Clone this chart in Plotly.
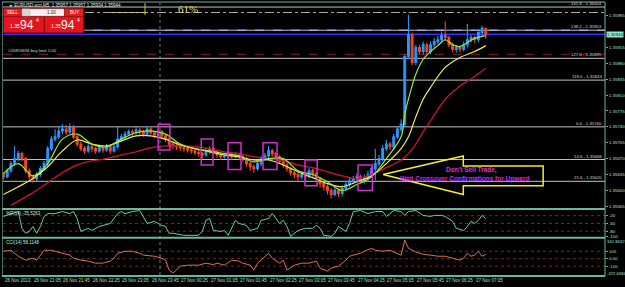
import plotly.graph_objects as go

# ---------------- DATA ----------------
opens = [1.35635,1.35630,1.35643,1.35659,1.35670,1.35681,1.35670,1.35643,1.35630,1.35626,
 1.35635,1.35648,1.35659,1.35692,1.35713,1.35718,1.35731,1.35735,1.35729,1.35740,
 1.35718,1.35702,1.35692,1.35687,1.35696,1.35692,1.35687,1.35694,1.35689,1.35696,
 1.35687,1.35696,1.35713,1.35718,1.35724,1.35729,1.35727,1.35733,1.35729,1.35724,
 1.35735,1.35727,1.35722,1.35729,1.35720,1.35713,1.35702,1.35698,1.35696,1.35694,
 1.35692,1.35689,1.35687,1.35683,1.35681,1.35678,1.35687,1.35692,1.35685,1.35678,
 1.35674,1.35676,1.35681,1.35674,1.35678,1.35674,1.35670,1.35659,1.35652,1.35648,
 1.35659,1.35670,1.35676,1.35687,1.35681,1.35674,1.35665,1.35656,1.35648,1.35639,
 1.35635,1.35630,1.35635,1.35630,1.35643,1.35637,1.35626,1.35615,1.35608,1.35600,
 1.35591,1.35600,1.35593,1.35604,1.35613,1.35621,1.35626,1.35630,1.35621,1.35628,
 1.35635,1.35648,1.35659,1.35670,1.35692,1.35702,1.35696,1.35718,1.35735,1.35746,
 1.35895,1.35943,1.35882,1.35915,1.35906,1.35921,1.35906,1.35921,1.35928,1.35932,
 1.35941,1.35937,1.35921,1.35911,1.35915,1.35911,1.35921,1.35932,1.35937,1.35932,
 1.35948,1.35957]
closes = [1.35630,1.35643,1.35659,1.35670,1.35681,1.35670,1.35643,1.35630,1.35626,1.35635,
 1.35648,1.35659,1.35692,1.35713,1.35718,1.35731,1.35735,1.35729,1.35740,1.35718,
 1.35702,1.35692,1.35687,1.35696,1.35692,1.35687,1.35694,1.35689,1.35696,1.35687,
 1.35696,1.35713,1.35718,1.35724,1.35729,1.35727,1.35733,1.35729,1.35724,1.35735,
 1.35727,1.35722,1.35729,1.35720,1.35713,1.35702,1.35698,1.35696,1.35694,1.35692,
 1.35689,1.35687,1.35683,1.35681,1.35678,1.35687,1.35692,1.35685,1.35678,1.35674,
 1.35676,1.35681,1.35674,1.35678,1.35674,1.35670,1.35659,1.35652,1.35648,1.35659,
 1.35670,1.35676,1.35687,1.35681,1.35674,1.35665,1.35656,1.35648,1.35639,1.35635,
 1.35630,1.35635,1.35630,1.35643,1.35637,1.35626,1.35615,1.35608,1.35600,1.35591,
 1.35600,1.35593,1.35604,1.35613,1.35621,1.35626,1.35630,1.35621,1.35628,1.35635,
 1.35648,1.35659,1.35670,1.35692,1.35702,1.35696,1.35718,1.35735,1.35746,1.35895,
 1.35943,1.35882,1.35915,1.35906,1.35921,1.35906,1.35921,1.35928,1.35932,1.35941,
 1.35937,1.35921,1.35911,1.35915,1.35911,1.35921,1.35932,1.35937,1.35932,1.35948,
 1.35957,1.35944]
highs = [1.35640,1.35648,1.35665,1.35698,1.35687,1.35685,1.35674,1.35648,1.35635,1.35641,
 1.35654,1.35665,1.35698,1.35720,1.35735,1.35740,1.35746,1.35744,1.35748,1.35744,
 1.35722,1.35707,1.35698,1.35702,1.35700,1.35696,1.35700,1.35698,1.35702,1.35700,
 1.35702,1.35740,1.35724,1.35731,1.35735,1.35735,1.35740,1.35737,1.35733,1.35742,
 1.35740,1.35731,1.35735,1.35733,1.35724,1.35718,1.35707,1.35702,1.35700,1.35698,
 1.35696,1.35694,1.35692,1.35689,1.35685,1.35694,1.35698,1.35696,1.35689,1.35683,
 1.35683,1.35687,1.35685,1.35685,1.35683,1.35678,1.35674,1.35663,1.35657,1.35665,
 1.35676,1.35683,1.35698,1.35692,1.35685,1.35678,1.35670,1.35661,1.35652,1.35643,
 1.35641,1.35641,1.35639,1.35650,1.35648,1.35641,1.35630,1.35619,1.35613,1.35604,
 1.35606,1.35604,1.35611,1.35619,1.35628,1.35632,1.35637,1.35635,1.35635,1.35643,
 1.35654,1.35692,1.35678,1.35700,1.35711,1.35707,1.35724,1.35742,1.35757,1.35900,
 1.35987,1.35948,1.35921,1.35921,1.35928,1.35926,1.35928,1.35935,1.35941,1.35950,
 1.35972,1.35941,1.35926,1.35921,1.35919,1.35928,1.35967,1.35943,1.35941,1.35954,
 1.35963,1.35957]
lows = [1.35624,1.35626,1.35639,1.35654,1.35665,1.35665,1.35637,1.35624,1.35617,1.35620,
 1.35630,1.35643,1.35654,1.35687,1.35707,1.35713,1.35724,1.35722,1.35724,1.35713,
 1.35696,1.35687,1.35681,1.35683,1.35685,1.35681,1.35683,1.35683,1.35685,1.35681,
 1.35683,1.35692,1.35707,1.35713,1.35720,1.35720,1.35722,1.35722,1.35718,1.35720,
 1.35722,1.35715,1.35718,1.35713,1.35707,1.35696,1.35692,1.35689,1.35687,1.35685,
 1.35683,1.35681,1.35678,1.35674,1.35670,1.35674,1.35681,1.35678,1.35672,1.35667,
 1.35670,1.35670,1.35667,1.35670,1.35667,1.35663,1.35652,1.35643,1.35639,1.35643,
 1.35654,1.35665,1.35670,1.35674,1.35667,1.35659,1.35650,1.35641,1.35632,1.35626,
 1.35622,1.35624,1.35622,1.35626,1.35630,1.35619,1.35606,1.35600,1.35591,1.35582,
 1.35587,1.35585,1.35587,1.35598,1.35608,1.35615,1.35619,1.35615,1.35615,1.35622,
 1.35630,1.35622,1.35654,1.35665,1.35687,1.35689,1.35692,1.35713,1.35729,1.35740,
 1.35889,1.35876,1.35876,1.35900,1.35900,1.35900,1.35900,1.35915,1.35921,1.35926,
 1.35930,1.35915,1.35904,1.35904,1.35904,1.35906,1.35915,1.35926,1.35924,1.35926,
 1.35941,1.35934]

# moving averages (bar index, value)
ma_fast_idx = [0,4,8,12,16,20,24,28,32,36,40,44,48,52,56,60,64,68,72,76,80,84,88,92,96,100,104,108,109,110,112,114,116,118,120,122,124,126,128,131]
ma_fast_val = [1.35637,1.35659,1.35632,1.35659,1.35713,1.35724,1.35702,1.35696,1.35713,1.35727,1.35731,1.35724,1.35702,1.35692,1.35687,1.35681,1.35676,1.35663,1.35670,1.35670,1.35643,1.35635,1.35619,1.35600,1.35613,1.35630,1.35670,1.35718,1.35768,1.35801,1.35856,1.35889,1.35906,1.35919,1.35932,1.35921,1.35917,1.35926,1.35935,1.35941]
ma_mid_idx = [0,4,8,12,16,20,24,28,32,36,40,44,48,52,56,60,64,68,72,76,80,84,88,92,96,100,104,108,110,112,114,116,120,124,128,131]
ma_mid_val = [1.35591,1.35608,1.35626,1.35652,1.35687,1.35711,1.35702,1.35698,1.35709,1.35720,1.35720,1.35713,1.35700,1.35692,1.35685,1.35678,1.35674,1.35667,1.35667,1.35656,1.35641,1.35628,1.35615,1.35608,1.35619,1.35632,1.35659,1.35692,1.35718,1.35762,1.35801,1.35827,1.35871,1.35893,1.35906,1.35919]
ma_slow_idx = [2,8,12,16,20,24,28,32,36,40,44,48,52,56,60,64,68,72,76,80,84,88,92,96,100,104,108,110,112,114,116,120,124,128,131]
ma_slow_val = [1.35567,1.35595,1.35617,1.35639,1.35656,1.35665,1.35670,1.35678,1.35685,1.35694,1.35698,1.35698,1.35696,1.35692,1.35685,1.35681,1.35674,1.35670,1.35665,1.35656,1.35650,1.35641,1.35632,1.35626,1.35635,1.35650,1.35667,1.35681,1.35702,1.35729,1.35753,1.35801,1.35830,1.35851,1.35869]

# Williams %R (bar index, value)
wpr_idx = [0,2,4,5,6,7,8,9,10,11,12,14,16,18,19,20,21,23,24,26,27,29,31,32,33,35,37,38,39,41,43,44,45,46,49,51,53,54,55,56,57,59,60,61,62,63,64,66,67,69,70,72,73,75,76,77,78,80,82,84,85,86,87,89,90,91,93,94,95,97,99,101,103,104,106,108,109,110,112,114,116,117,119,120,122,123,125,126,127,128,129,130,131]
wpr_val = [-23,-12,-4,-69,-88,-81,-62,-88,-62,-23,-12,-12,-4,-12,-4,-31,-81,-69,-77,-62,-58,-50,-12,-4,-12,-4,0,-23,-50,-42,-58,-62,-88,-88,-96,-96,-96,-81,-38,-31,-77,-81,-77,-96,-69,-38,-50,-58,-77,-69,-38,-31,-12,-50,-38,-62,-100,-77,-69,-69,-58,-69,-96,-100,-88,-62,-81,-50,-4,0,-12,-4,-4,-23,0,-4,-19,-4,0,-19,-23,-19,-19,-23,-42,-69,-77,-62,-42,-50,-38,-19,-31,-35.5]
# CCI (bar index, value)
cci_idx = [0,2,3,4,6,8,9,10,11,13,14,16,18,19,21,23,25,27,29,30,31,33,35,37,38,41,43,44,45,46,47,48,50,53,55,57,58,60,62,64,65,67,68,69,71,72,73,75,76,77,79,81,83,85,86,88,89,91,93,94,95,97,98,100,101,103,105,107,108,109,110,112,114,116,118,120,122,124,125,126,127,128,129,130,131]
cci_val = [100,113,73,33,-20,7,-20,47,113,113,100,73,47,7,-20,-33,-60,-60,-33,7,73,100,100,73,47,33,7,-20,-153,-193,-153,-100,-87,-87,-60,-80,-60,-87,-20,-33,-60,-87,-153,-60,33,73,7,-60,-20,-153,-87,-60,-60,-33,-127,-167,-127,-100,-20,33,47,73,100,140,113,100,113,73,47,247,140,90,60,47,33,33,7,-20,7,73,33,47,100,33,58.1]

time_idx = [0,8,16,24,32,40,48,56,64,72,80,88,96,104,112,120,128]
time_labels = ["26 Nov 2013","26 Nov 21:05","26 Nov 21:45","26 Nov 22:25","26 Nov 23:05","26 Nov 23:45",
               "27 Nov 00:25","27 Nov 01:05","27 Nov 01:45","27 Nov 02:25","27 Nov 03:05","27 Nov 03:45",
               "27 Nov 04:25","27 Nov 05:05","27 Nov 05:45","27 Nov 06:25","27 Nov 07:05"]
price_ticks = [1.35565,1.35600,1.35635,1.35670,1.35705,1.35740,1.35775,1.35810,1.35845,1.35880,1.35915,1.35985]
bid_price = 1.35944
fib_prices = [1.36004,1.35953,1.35891,1.35843,1.35740,1.35668,1.35620]
fib_labels = ["161.8 - 1.36004","138.2 - 1.35953","127.0 - 1.35891","118.0 - 1.35843","0.0 - 1.35740","14.6 - 1.35668","21.6 - 1.35620"]
buy_limit_price = 1.35900
level_6_price = 1.35992
vline_bar = 42.5
# magenta boxes: (bar0, bar1, price_low, price_high)
boxes = [(42.0,45.2,1.35689,1.35746),(53.7,56.9,1.35656,1.35713),(61.0,64.5,1.35646,1.35705),
         (70.5,74.3,1.35646,1.35705),(81.9,85.2,1.35610,1.35667),(96.3,100.2,1.35600,1.35656)]
arrow_x = [103.1,124.9,124.9,146.6,146.6,124.9,124.9,103.1]
arrow_y = [1.35635,1.35676,1.35654,1.35654,1.35610,1.35610,1.35591,1.35635]
wpr_levels = [-20,-50,-80]
wpr_ticks = [-20,-50,-80,-100]
cci_levels = [100,0,-100]

# ---------------- FIGURE ----------------
W, H = 625, 287
def px(x): return x / W
def py(y): return 1 - y / H

P_TOP, P_BOT = 1.36013, 1.35560
FG = '#A6E0C4'
FRAME = '#6FB59A'
FONT = 'Liberation Sans'

fig = go.Figure()
xb = list(range(len(closes)))
fig.add_trace(go.Candlestick(x=xb, open=opens, high=highs, low=lows, close=closes,
    increasing=dict(line=dict(color='#2A95FF', width=1.1), fillcolor='#2A95FF'),
    decreasing=dict(line=dict(color='#F0462E', width=1.1), fillcolor='#F0462E'),
    whiskerwidth=0, hoverinfo='skip', xaxis='x', yaxis='y'))
fig.add_trace(go.Scatter(x=ma_slow_idx, y=ma_slow_val, mode='lines', line=dict(color='#C0142E', width=1.4, shape='spline'), xaxis='x', yaxis='y'))
fig.add_trace(go.Scatter(x=ma_mid_idx, y=ma_mid_val, mode='lines', line=dict(color='#F2EE58', width=1.2, shape='spline'), xaxis='x', yaxis='y'))
fig.add_trace(go.Scatter(x=ma_fast_idx, y=ma_fast_val, mode='lines', line=dict(color='#8EF03A', width=1.2, shape='spline'), xaxis='x', yaxis='y'))
fig.add_trace(go.Scatter(x=wpr_idx, y=wpr_val, mode='lines', line=dict(color='#66CDAA', width=1), xaxis='x', yaxis='y2'))
fig.add_trace(go.Scatter(x=cci_idx, y=cci_val, mode='lines', line=dict(color='#D8744C', width=1), xaxis='x', yaxis='y3'))

shapes = []
def hline(yv, yref, color, width=1, dash='solid', x0=3, x1=605):
    shapes.append(dict(type='line', xref='paper', yref=yref, x0=px(x0), x1=px(x1), y0=yv, y1=yv,
                       line=dict(color=color, width=width, dash=dash), layer='below'))

for fp in fib_prices:
    hline(fp, 'y', '#C4C4C4', 1)
hline(level_6_price, 'y', '#A8A8A8', 1, 'dashdot', 85, 605)
hline(buy_limit_price, 'y', '#8E1A1A', 1, 'dash')
hline(bid_price, 'y', '#2F2FFF', 1.6)
hline(fib_prices[1], 'y', '#B8B8FF', 1, 'dash')
for lv in wpr_levels:
    hline(lv, 'y2', '#7A2626', 1, 'dot')
for lv in cci_levels:
    hline(lv, 'y3', '#7A2626', 1, 'dot')

shapes.append(dict(type='line', xref='x', yref='paper', x0=vline_bar, x1=vline_bar, y0=py(277), y1=py(3),
                   line=dict(color='#5E8E7E', width=1, dash='dot')))
shapes.append(dict(type='line', xref='paper', yref='paper', x0=px(145), x1=px(145), y0=py(15), y1=py(3),
                   line=dict(color='#D8C040', width=1)))
shapes.append(dict(type='line', xref='paper', yref='y', x0=px(112), x1=px(145), y0=level_6_price, y1=level_6_price,
                   line=dict(color='#E0D060', width=1, dash='dot')))

for b0, b1, lo, hi in boxes:
    shapes.append(dict(type='rect', xref='x', yref='y', x0=b0, x1=b1, y0=lo, y1=hi,
                       line=dict(color='#D030D0', width=1.5)))

shapes.append(dict(type='line', xref='paper', yref='paper', x0=px(605), x1=px(605), y0=py(278), y1=py(2), line=dict(color=FRAME, width=1)))
shapes.append(dict(type='line', xref='paper', yref='paper', x0=px(2.5), x1=px(2.5), y0=py(278), y1=py(2), line=dict(color='#3E6E5E', width=1)))
for yy, w in [(2, 1), (210.5, 2), (239.5, 2), (278, 2)]:
    shapes.append(dict(type='line', xref='paper', yref='paper', x0=px(2), x1=px(605), y0=py(yy), y1=py(yy), line=dict(color=FRAME, width=w)))

def prect(x0, y0, x1, y1, fill, lc=None):
    shapes.append(dict(type='rect', xref='paper', yref='paper', x0=px(x0), x1=px(x1), y0=py(y1), y1=py(y0),
                       fillcolor=fill, line=dict(color=lc or fill, width=0.5), layer='above'))
prect(3.5, 8, 84, 33, '#7A0A0A')
prect(4, 9, 21, 16, '#E01E22')
prect(22, 9, 64, 16, '#F2F2F2', '#B0B0B0')
prect(22, 9, 30, 16, '#D8D8D8', '#B0B0B0')
prect(65, 9, 83, 16, '#E01E22')
prect(4, 17, 43.5, 32.5, '#E5151D')
prect(45, 17, 83, 32.5, '#E5151D')

annotations = []
def ann(x, y, text, size=5, color=FG, xanchor='left', yanchor='middle', xref='paper', yref='paper', family=FONT, bg=None, **kw):
    d = dict(x=x, y=y, xref=xref, yref=yref, text=text, showarrow=False, xanchor=xanchor, yanchor=yanchor,
             font=dict(size=size, color=color, family=family), borderpad=0)
    if bg:
        d['bgcolor'] = bg
    d.update(kw)
    annotations.append(d)

for ti, tl in zip(time_idx, time_labels):
    ann(ti, py(282.5), tl, 4.5, FG, xref='x')
for fp, fl in zip(fib_prices, fib_labels):
    ann(px(603), fp, fl, 4.3, '#D8D8D8', xanchor='right', yanchor='bottom', yref='y')
ann(px(7), buy_limit_price, '#20859494 buy limit 1.00', 4.3, '#A8E0C0', yanchor='bottom', yref='y')
ann(px(606), bid_price, f'{bid_price:.5f}', 4.4, '#0A2A20', yref='y', bg='#8FE8CC')
ann(px(9), py(5.5), '\u25b8 EURUSD.ecn,M5  1.35957 1.35957 1.35934 1.35944', 4.5, '#E8E8E8')
ann(px(177), py(9), '61%', 11, '#E6E070', family='Liberation Serif')
ann(px(5), py(214.5), '%R(14) -35.5263', 4.5, '#C8E8D8')
ann(px(5), py(244.5), 'CCI(14) 58.1148', 4.5, '#C8E8D8')
ann(px(606), py(243.5), '342.8632', 4.2, FG)
ann(px(606), py(275.5), '-372.6384', 4.2, FG)
ann(px(12.5), py(12.7), 'SELL', 4.5, 'white', xanchor='center')
ann(px(74), py(12.7), 'BUY', 4.5, 'white', xanchor='center')
ann(px(57), py(12.7), '1.00', 4.5, '#202020', xanchor='right')
for bx in (9, 50):
    ann(px(bx), py(26), '1.35', 5, 'white')
    ann(px(bx + 10), py(25), '94', 12, 'white')
    ann(px(bx + 26), py(20.5), '4', 5, 'white')
ann(127.0, 1.35646, "<b>Don't Sell Trade,</b>", 6.5, '#E028E0', xanchor='center', xref='x', yref='y')
ann(125.3, 1.35626, '<b>Wait Crossover Confirmations for Upward</b>', 6.5, '#C828E8', xanchor='center', xref='x', yref='y')

fig.add_trace(go.Scatter(x=arrow_x, y=arrow_y, mode='lines', line=dict(color='#F2F020', width=1.5), xaxis='x', yaxis='y'))

tickfont = dict(size=4.4, color=FG, family=FONT)
fig.update_layout(
    width=W, height=H, margin=dict(l=0, r=0, t=0, b=0),
    paper_bgcolor='black', plot_bgcolor='black', showlegend=False,
    xaxis=dict(domain=[px(3), px(605)], range=[-0.15, 163.4], showticklabels=False, showgrid=False,
               zeroline=False, showline=False, ticks='', rangeslider=dict(visible=False), fixedrange=True),
    yaxis=dict(domain=[py(210), py(3)], range=[P_BOT, P_TOP], side='right', anchor='x',
               tickvals=price_ticks, ticktext=[f'{v:.5f}' for v in price_ticks], tickfont=tickfont,
               ticks='outside', ticklen=2, tickcolor=FRAME, showgrid=False, zeroline=False, showline=False),
    yaxis2=dict(domain=[py(239), py(211)], range=[-103.8, 3.8], side='right', anchor='x',
                tickvals=wpr_ticks, ticktext=[str(v) for v in wpr_ticks], tickfont=tickfont,
                ticks='outside', ticklen=2, tickcolor=FRAME, showgrid=False, zeroline=False, showline=False),
    yaxis3=dict(domain=[py(277), py(241)], range=[-220, 260], side='right', anchor='x',
                tickvals=cci_levels, ticktext=['100', '0.00', '-100'], tickfont=tickfont,
                ticks='outside', ticklen=2, tickcolor=FRAME, showgrid=False, zeroline=False, showline=False),
    shapes=shapes, annotations=annotations,
)
fig.write_html('out.html')
